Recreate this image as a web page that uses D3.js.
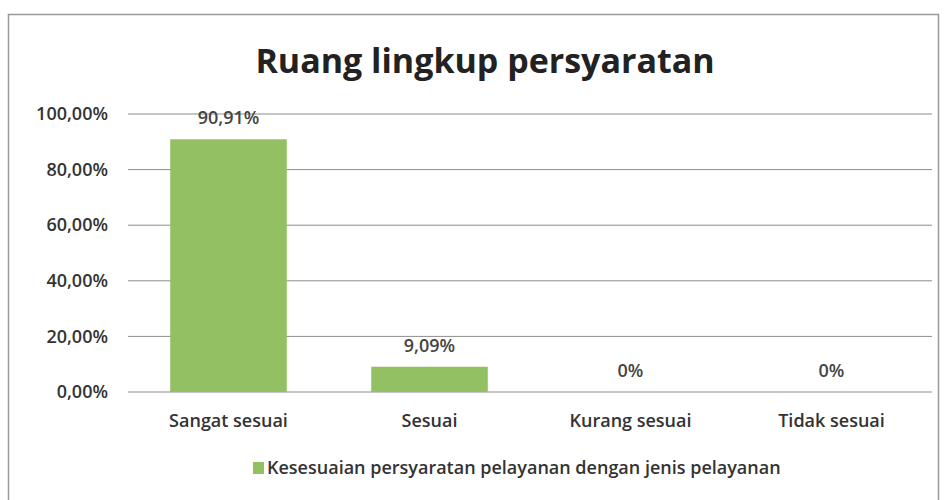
<!DOCTYPE html>
<html>
<head>
<meta charset="utf-8">
<script src="https://cdn.jsdelivr.net/npm/d3@7"></script>
<style>
  body { margin: 0; background: #fff; }
  svg { font-family: "Open Sans", Lato, sans-serif; }
</style>
</head>
<body>
<div id="chart"></div>
<script>
var categories = ["Sangat sesuai", "Sesuai", "Kurang sesuai", "Tidak sesuai"];
var values = [90.91, 9.09, 0, 0];
var valueLabels = ["90,91%", "9,09%", "0%", "0%"];
var yTicks = [0, 20, 40, 60, 80, 100];
var seriesName = "Kesesuaian persyaratan pelayanan dengan jenis pelayanan";

var svgWidth = 944;
var svgHeight = 500;

var margin = { top: 114, right: 12, bottom: 108, left: 128 };
var width = svgWidth - margin.left - margin.right;
var height = svgHeight - margin.top - margin.bottom;

var svg = d3.select("#chart")
    .append("svg")
    .attr("width", svgWidth)
    .attr("height", svgHeight);

// frame
svg.append("rect")
    .attr("x", 8.5).attr("y", 14.5)
    .attr("width", 930).attr("height", 500)
    .attr("fill", "none")
    .attr("stroke", "#9a9a9a")
    .attr("stroke-width", 1.5);

// title
svg.append("text")
    .attr("x", 485).attr("y", 73)
    .attr("text-anchor", "middle")
    .attr("font-size", 34)
    .attr("font-weight", "bold")
    .attr("fill", "#222")
    .text("Ruang lingkup persyaratan");

var chartGroup = svg.append("g")
    .attr("transform", `translate(${margin.left}, ${margin.top})`);

var xBandScale = d3.scaleBand()
    .domain(categories)
    .range([0, width])
    .paddingInner(0.42)
    .paddingOuter(0.21);

var yLinearScale = d3.scaleLinear()
    .domain([0, 100])
    .range([height, 0]);

// gridlines
chartGroup.selectAll(".grid")
    .data(yTicks)
    .enter()
    .append("line")
    .attr("x1", 0).attr("x2", width)
    .attr("y1", d => yLinearScale(d)).attr("y2", d => yLinearScale(d))
    .attr("stroke", "#8c8c8c")
    .attr("stroke-width", 1);

// y axis labels
var leftAxis = d3.axisLeft(yLinearScale)
    .tickValues(yTicks)
    .tickSize(0)
    .tickPadding(20)
    .tickFormat(d => d.toFixed(2).replace(".", ",") + "%");

chartGroup.append("g")
    .call(leftAxis)
    .call(g => g.select(".domain").remove())
    .selectAll("text")
    .attr("font-size", 18)
    .attr("font-weight", 600)
    .attr("fill", "#333")
    .attr("font-family", "'Open Sans', sans-serif");

// bars
chartGroup.selectAll(".bar")
    .data(values)
    .enter()
    .append("rect")
    .attr("x", (d, i) => xBandScale(categories[i]))
    .attr("y", d => yLinearScale(d))
    .attr("width", xBandScale.bandwidth())
    .attr("height", d => height - yLinearScale(d))
    .attr("fill", "#93c062");

// value labels
chartGroup.selectAll(".vlabel")
    .data(values)
    .enter()
    .append("text")
    .attr("x", (d, i) => xBandScale(categories[i]) + xBandScale.bandwidth() / 2)
    .attr("y", d => yLinearScale(d) - 15)
    .attr("text-anchor", "middle")
    .attr("font-size", 18)
    .attr("font-weight", 600)
    .attr("fill", "#444")
    .text((d, i) => valueLabels[i]);

// x axis labels
var bottomAxis = d3.axisBottom(xBandScale)
    .tickSize(0)
    .tickPadding(22);

chartGroup.append("g")
    .attr("transform", `translate(0, ${height})`)
    .call(bottomAxis)
    .call(g => g.select(".domain").remove())
    .selectAll("text")
    .attr("font-size", 18)
    .attr("font-weight", 600)
    .attr("fill", "#333")
    .attr("font-family", "'Open Sans', sans-serif");

// legend
var legend = svg.append("g")
    .attr("transform", "translate(253, 468)");

legend.append("rect")
    .attr("x", 0).attr("y", -6)
    .attr("width", 11).attr("height", 12)
    .attr("fill", "#93c062");

legend.append("text")
    .attr("x", 14).attr("y", 6)
    .attr("font-size", 18)
    .attr("font-weight", 600)
    .attr("fill", "#333")
    .text(seriesName);
</script>
</body>
</html>
